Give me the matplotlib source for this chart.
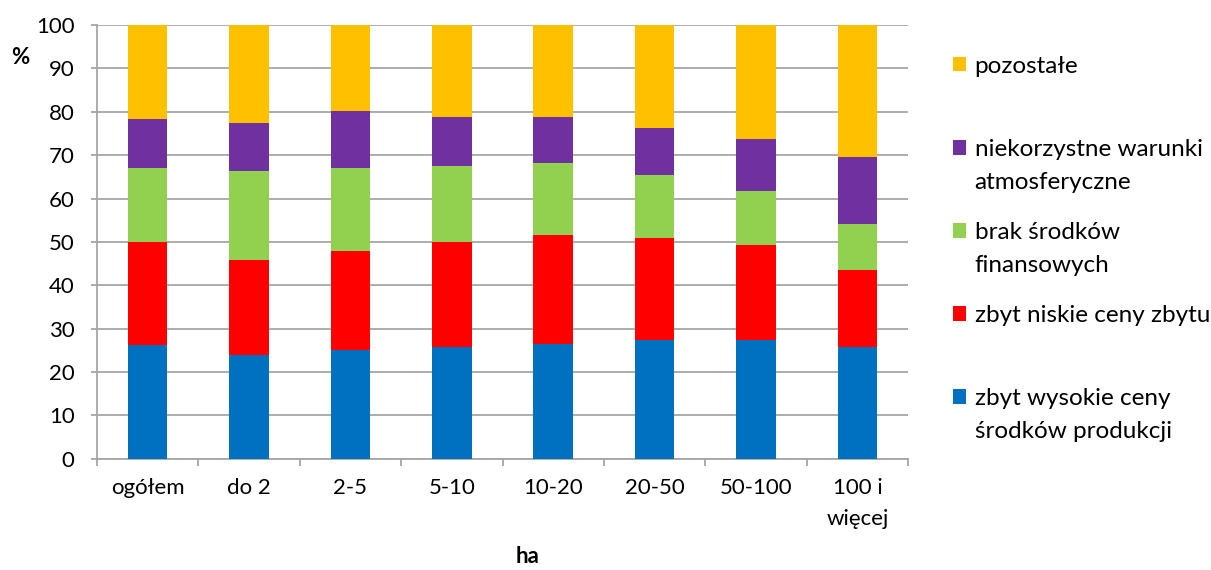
import numpy as np
import matplotlib.pyplot as plt

plt.rcParams['font.family'] = ['Lato', 'DejaVu Sans']

# categories (farm size, ha)
categories = ["ogółem", "do 2", "2-5", "5-10", "10-20", "20-50", "50-100", "100 i\nwięcej"]

# shares in %
wysokie_ceny = [26.2, 23.9, 25.2, 25.8, 26.4, 27.4, 27.4, 25.8]
niskie_ceny = [23.7, 22.0, 22.8, 24.1, 25.1, 23.4, 21.8, 17.8]
brak_srodkow = [17.2, 20.5, 19.1, 17.7, 16.8, 14.7, 12.5, 10.5]
warunki = [11.3, 11.1, 13.0, 11.2, 10.5, 10.8, 12.0, 15.5]
pozostale = [21.6, 22.5, 19.9, 21.2, 21.2, 23.7, 26.3, 30.4]

series = [wysokie_ceny, niskie_ceny, brak_srodkow, warunki, pozostale]
labels = ["zbyt wysokie ceny\nśrodków produkcji",
          "zbyt niskie ceny zbytu\n ",
          "brak środków\nfinansowych",
          "niekorzystne warunki\natmosferyczne",
          "pozostałe\n "]
colors = ["#0070C0", "#FF0000", "#92D050", "#7030A0", "#FFC000"]

fig = plt.figure(figsize=(12.11, 5.70), dpi=100)
ax = fig.add_axes([0.080, 0.195, 0.670, 0.761])

x = np.arange(len(categories))
bottom = np.zeros(len(categories))
bars = []
for vals, lab, col in zip(series, labels, colors):
    b = ax.bar(x, vals, 0.39, bottom=bottom, color=col, label=lab, zorder=3)
    bars.append(b)
    bottom += np.array(vals)

ax.set_ylim(0, 100)
ax.set_xlim(-0.5, len(categories) - 0.5)
ax.set_yticks(np.arange(0, 101, 10))
ax.grid(axis='y', color='#A6A6A6', linewidth=1.3, zorder=0)

for s in ['top', 'right']:
    ax.spines[s].set_visible(False)
for s in ['left', 'bottom']:
    ax.spines[s].set_color('#A6A6A6')
    ax.spines[s].set_linewidth(1.3)

ax.set_xticks(np.arange(-0.5, len(categories), 1), minor=True)
ax.tick_params(axis='x', which='major', length=0, pad=14, labelsize=16)
ax.tick_params(axis='x', which='minor', length=5, color='#A6A6A6', width=1.3)
ax.tick_params(axis='y', length=4, color='#A6A6A6', width=1.3, pad=12, labelsize=16)
ax.set_xticks(x)
ax.set_xticklabels(categories, linespacing=1.7)

ax.set_ylabel('%', rotation=0, fontsize=16, fontweight='bold')
ax.yaxis.set_label_coords(-0.095, 0.902)
ax.set_xlabel('ha', fontsize=16, fontweight='bold')
ax.xaxis.set_label_coords(0.531, -0.2)

fs = 17.5
ls = 1.7
handles = bars[::-1]
leg = fig.legend(handles, labels[::-1], loc='upper left', bbox_to_anchor=(0.769, 0.940),
                 frameon=False, fontsize=fs, handlelength=0.53, handleheight=0.53,
                 handletextpad=0.35, labelspacing=1.2)
for t in leg.get_texts():
    t.set_linespacing(ls)
# put each square next to the first line of its label
for p in leg.get_patches():
    p.set_y(p.get_y() + 0.5 * ls * fs * 0.9)

fig.savefig('out.png', dpi=100)
